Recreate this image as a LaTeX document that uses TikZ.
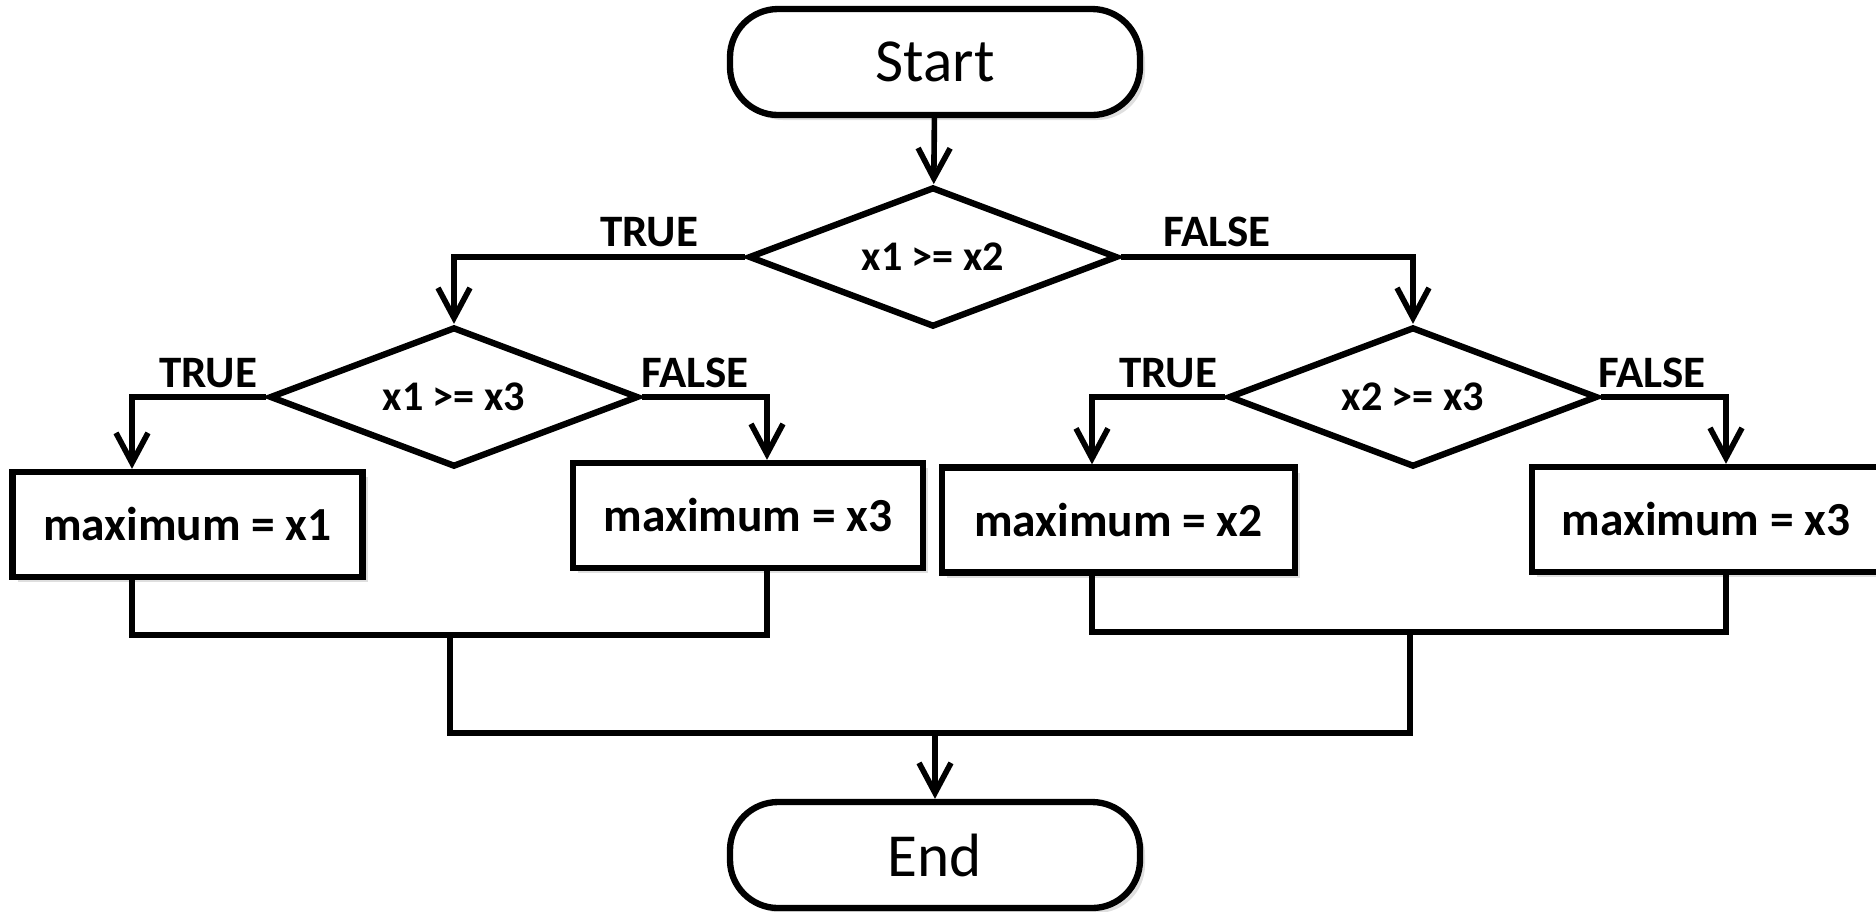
\documentclass[tikz,border=0pt]{standalone}
\usepackage{fontspec}
\setmainfont{Carlito}
\usetikzlibrary{shapes.geometric,arrows.meta,shadows}
\tikzset{
  term/.style={draw,line width=1.8pt,rounded corners=0.48cm,minimum width=4.1cm,minimum height=1.06cm,fill=white,
    drop shadow={shadow xshift=0.05cm,shadow yshift=-0.05cm,opacity=0.25},font=\fontsize{17.4}{20}\selectfont},
  decision/.style={draw,diamond,line width=1.8pt,minimum width=3.69cm,minimum height=1.4cm,inner sep=0pt,aspect=2.6,
    font=\bfseries\fontsize{12}{14}\selectfont},
  assign/.style={draw,line width=1.8pt,minimum width=3.5cm,minimum height=1.05cm,fill=white,
    drop shadow={shadow xshift=0.05cm,shadow yshift=-0.05cm,opacity=0.25},font=\bfseries\fontsize{13.5}{16}\selectfont},
  tf/.style={anchor=base,inner sep=0pt,font=\bfseries\fontsize{12.8}{15}\selectfont},
  link/.style={line width=1.6pt},
  >={Straight Barb[length=0.3cm,width=0.32cm]}
}

\begin{document}
\begin{tikzpicture}
           \useasboundingbox (0,0) rectangle (18.76,-9.11);
           \node[term] (s) at (9.35,-0.62) {Start};
           \node[decision] (d_1) at (9.33,-2.57) {x1 >= x2};
           \node[decision] (d_2) at (4.54,-3.97) {x1 >= x3};
           \node[decision] (d_3) at (14.13,-3.97) {x2 >= x3};
           \node[assign] (m_1) at (1.875,-5.245) {maximum = x1};
           \node[assign] (m_2) at (7.48,-5.155) {maximum = x3};
           \node[assign,minimum width=3.53cm] (m_3) at (11.185,-5.20) {maximum = x2};
           \node[assign,minimum width=3.48cm] (m_4) at (17.06,-5.195) {maximum = x3};
           \node[term] (e) at (9.35,-8.55) {End};
           \node[tf] (t_1) at (6.49,-2.46) {TRUE};
           \node[tf] (f_1) at (12.17,-2.46) {FALSE};
           \node[tf] (t_2) at (2.08,-3.87) {TRUE};
           \node[tf] (f_2) at (6.95,-3.87) {FALSE};
           \node[tf] (t_3) at (11.68,-3.87) {TRUE};
           \node[tf] (f_3) at (16.52,-3.87) {FALSE};
           \coordinate (j_l) at (4.50,-6.35);
           \coordinate (j_r) at (14.10,-6.32);
           \coordinate (j_m) at (9.35,-7.33);
            \draw[link,->] (s) -- (d_1);
            \draw[link,->] (d_1.west) -| (d_2.north);
            \draw[link,->] (d_1.east) -| (d_3.north);
            \draw[link,->] (d_2.west) -| ([xshift=-0.555cm]m_1.north);
            \draw[link,->] (d_2.east) -| ([xshift=0.19cm]m_2.north);
            \draw[link,->] (d_3.west) -| ([xshift=-0.265cm]m_3.north);
            \draw[link,->] (d_3.east) -| ([xshift=0.2cm]m_4.north);
            \draw[link] ([xshift=-0.555cm]m_1.south) |- (j_l) -| ([xshift=0.19cm]m_2.south);
            \draw[link] ([xshift=-0.265cm]m_3.south) |- (j_r) -| ([xshift=0.2cm]m_4.south);
            \draw[link] (j_l) |- (j_m) -| (j_r);
            \draw[link,->] (j_m) -- (e);
        \end{tikzpicture}
\end{document}
